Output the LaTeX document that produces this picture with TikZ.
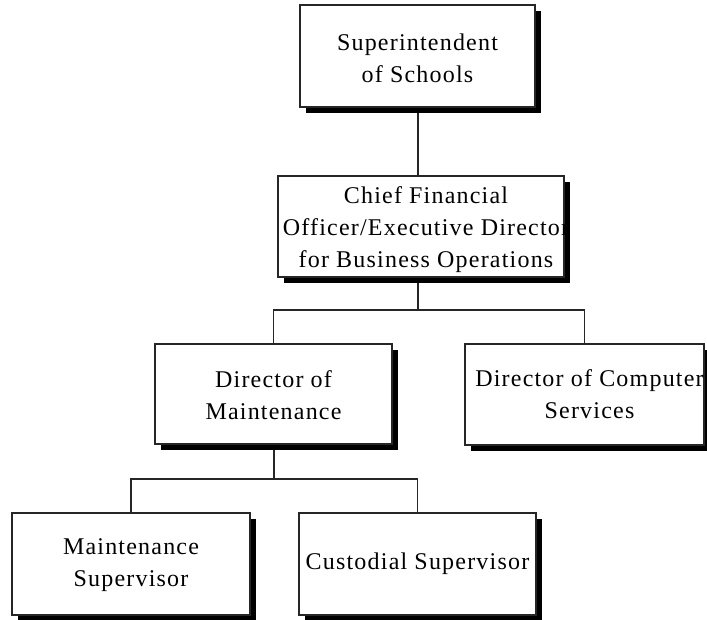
\documentclass[tikz,border=0pt]{standalone}
\usepackage{fontspec}
\setmainfont{Liberation Serif}[LetterSpace=5]
\begin{document}
\begin{tikzpicture}[x=1pt,y=-1pt,
  every node/.style={inner sep=0pt,outer sep=0pt},
  orgbox/.style={rectangle,draw=black!85,line width=1.6pt,fill=white},
  boxtext/.style={align=center,font=\fontsize{24}{32}\selectfont,text=black},
  wire/.style={draw=black!85,line width=1.7pt},
  drop/.style={fill=black}]
\useasboundingbox (0,0) rectangle (707,619);

% box geometry: corners in picture units
\newcommand{\orgbox}[5]{%
  \fill[drop] (#2+6,#3+6) rectangle (#4+6,#5+6);
  \node[orgbox,minimum width=#4-#2,minimum height=#5-#3] (#1) at ({(#2+#4)/2},{(#3+#5)/2}) {};
}

% junction points of the elbow connectors
\coordinate (j1) at (418,310);
\coordinate (j2) at (274,479);

% connectors are drawn first so the shadows sit over their ends
\path[wire] (418,107) -- (418,176);
\path[wire] (418,277) -- (j1);
\path[wire] (273.5,344) |- (j1) -| (584.5,344);
\path[wire] (274,444) -- (j2);
\path[wire] (131,513) |- (j2) -| (417.5,513);

\orgbox{sup}{300}{5}{535}{107}
\orgbox{cfo}{278}{176}{564}{277}
\orgbox{dm}{155}{344}{392}{444}
\orgbox{dcs}{465}{344}{704}{445}
\orgbox{ms}{12}{513}{250}{615}
\orgbox{cs}{299}{513}{536}{615}

\node[boxtext,yshift=-2pt] (sup-t) at (sup) {Superintendent\\of Schools};
\node[boxtext,yshift=-1pt] (dm-t) at (dm) {Director of\\Maintenance};
\node[boxtext,yshift=-1pt] (ms-t) at (ms) {Maintenance\\Supervisor};
\node[boxtext] (cs-t) at (cs) {Custodial Supervisor};
\begin{scope}
  \clip (cfo.south west) rectangle (cfo.north east);
  \node[boxtext,xshift=5pt,yshift=-3pt] (cfo-t) at (cfo) {Chief Financial\\Officer/Executive Director\\for Business Operations};
\end{scope}
\begin{scope}
  \clip (dcs.south west) rectangle (dcs.north east);
  \node[boxtext,xshift=5pt] (dcs-t) at (dcs) {Director of Computer\\Services};
\end{scope}
\end{tikzpicture}
\end{document}
